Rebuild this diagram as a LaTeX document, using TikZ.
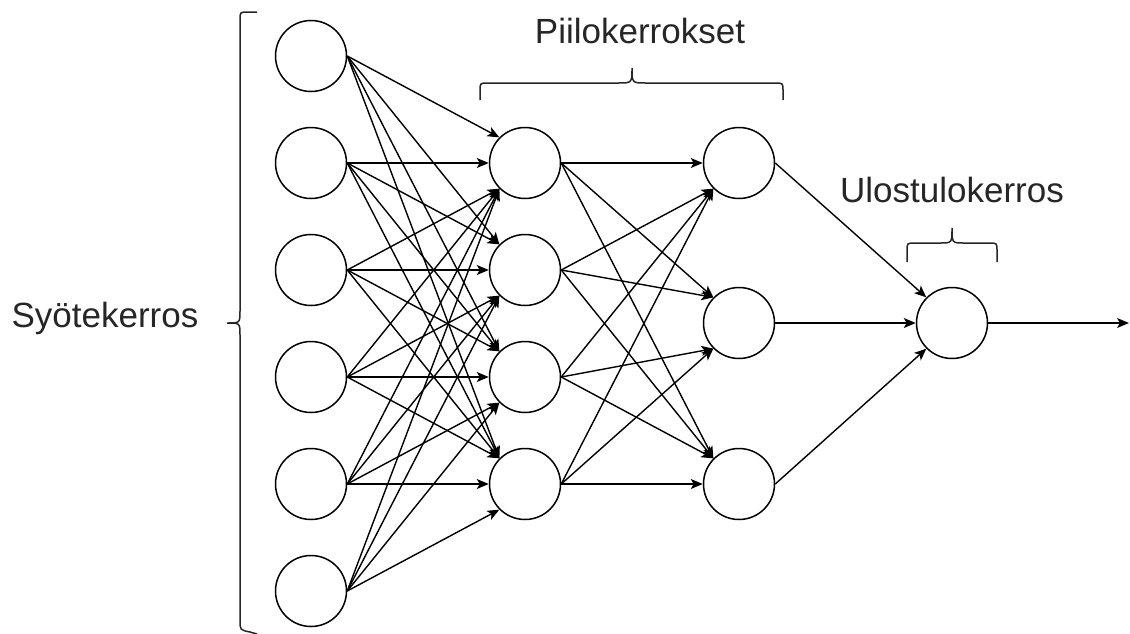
\documentclass[tikz,border=0pt]{standalone}
\usepackage{fontspec}
\setmainfont{Liberation Sans}
\usetikzlibrary{arrows.meta}
\tikzset{
  neuron/.style={circle,draw=black,line width=1.5pt,minimum size=71pt,inner sep=0pt,fill=white},
  edge/.style={draw=black,line width=1.4pt,-{Stealth[length=12pt,width=10pt,inset=3pt]}},
  bracket/.style={draw=black!85,line width=1.5pt},
  lbl/.style={font=\fontsize{35}{42}\selectfont,text=black!85,anchor=base,inner sep=0pt}
}
\begin{document}
\begin{tikzpicture}[x=1pt,y=-1pt]
\useasboundingbox (0,0) rectangle (1130,633);
\clip (0,0) rectangle (1130,633);
% input layer
\foreach \i/\y in {1/56,2/163,3/270,4/377,5/484,6/591}
  \node[neuron] (in\i) at (311,\y) {};
% hidden layer 1
\foreach \j/\y in {1/163,2/270,3/377,4/484}
  \node[neuron] (ha\j) at (525,\y) {};
% hidden layer 2
\foreach \k/\y in {1/163,2/323,3/484}
  \node[neuron] (hb\k) at (739,\y) {};
% output
\node[neuron] (out) at (952,323) {};
\coordinate (end) at (1129,323);
% input -> hidden1
\foreach \i/\yi in {1/56,2/163,3/270,4/377,5/484,6/591}{
  \foreach \j/\yj in {1/163,2/270,3/377,4/484}{
    \ifnum\yi<\yj \def\anc{north west}\else\ifnum\yi=\yj \def\anc{west}\else\def\anc{south west}\fi\fi
    \draw[edge] (in\i.east) -- (ha\j.\anc);
  }
}
% hidden1 -> hidden2
\foreach \j/\yj in {1/163,2/270,3/377,4/484}{
  \foreach \k/\yk in {1/163,2/323,3/484}{
    \ifnum\yj<\yk \def\anc{north west}\else\ifnum\yj=\yk \def\anc{west}\else\def\anc{south west}\fi\fi
    \draw[edge] (ha\j.east) -- (hb\k.\anc);
  }
}
% hidden2 -> output
\draw[edge] (hb1.east) -- (out.north west);
\draw[edge] (hb2.east) -- (out.west);
\draw[edge] (hb3.east) -- (out.south west);
\draw[edge] (out.east) -- (end);
% brackets
\draw[bracket] (257,12) -- (248,12) .. controls (240,12) .. (240,20) -- (240,311)
  .. controls (240,323) .. (227,323) .. controls (240,323) .. (240,335) -- (240,620)
  .. controls (240,630) .. (250,632) -- (257,634);
\draw[bracket] (480,100) -- (480,91) .. controls (480,83) .. (488,83) -- (618,83)
  .. controls (632,83) .. (632,68) .. controls (632,83) .. (646,83) -- (775,83)
  .. controls (783,83) .. (783,91) -- (783,100);
\draw[bracket] (907,262) -- (907,251) .. controls (907,243) .. (915,243) -- (940,243)
  .. controls (952,243) .. (952,228) .. controls (952,243) .. (964,243) -- (989,243)
  .. controls (997,243) .. (997,251) -- (997,262);
% labels
\node[lbl] (tin) at (105,327) {Syötekerros};
\node[lbl] (thid) at (640,43) {Piilokerrokset};
\node[lbl] (tout) at (952,202) {Ulostulokerros};
\end{tikzpicture}
\end{document}
